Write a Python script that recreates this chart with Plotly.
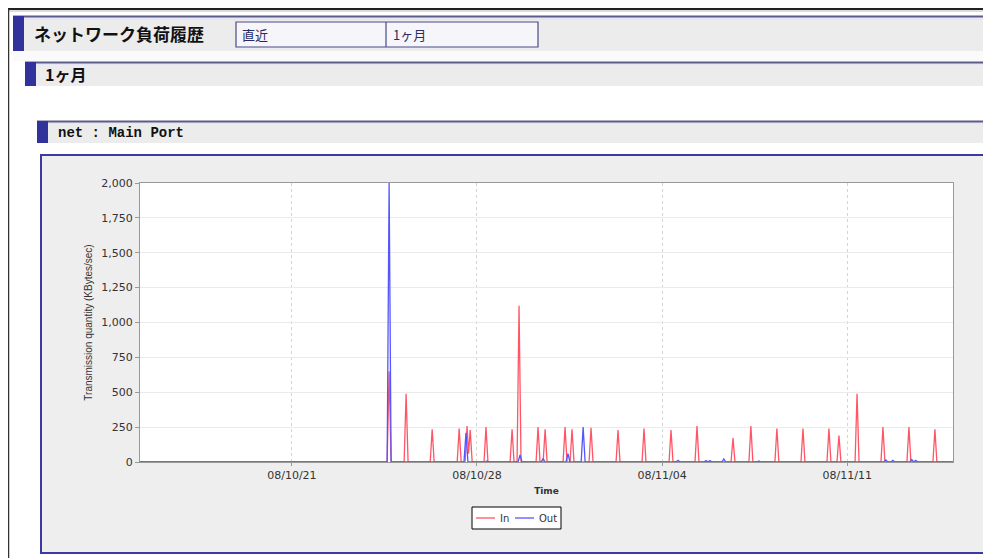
import plotly.graph_objects as go
from datetime import datetime, timedelta

# ---------------- data ----------------
in_times = [
    "2008-10-24 16:15", "2008-10-25 07:40", "2008-10-26 07:20", "2008-10-27 07:50",
    "2008-10-27 15:00", "2008-10-27 16:20", "2008-10-27 17:50", "2008-10-28 08:10",
    "2008-10-29 07:50", "2008-10-29 14:10", "2008-10-30 07:25", "2008-10-30 13:50",
    "2008-10-31 07:55", "2008-10-31 14:15", "2008-11-01 07:30", "2008-11-02 08:00",
    "2008-11-03 07:35", "2008-11-04 08:05", "2008-11-05 07:40", "2008-11-06 16:20",
    "2008-11-07 08:35", "2008-11-08 08:10", "2008-11-09 07:50", "2008-11-10 07:25",
    "2008-11-10 16:30", "2008-11-11 08:55", "2008-11-12 08:25", "2008-11-13 08:00",
    "2008-11-14 07:35",
]
in_values = [
    650, 490, 235, 240,
    257, 60, 230, 250,
    235, 1120, 250, 235,
    250, 235, 245, 230,
    240, 230, 257, 171,
    257, 240, 240, 240,
    190, 490, 250, 250,
    235,
]

out_times = [
    "2008-10-24 16:15", "2008-10-27 14:00", "2008-10-28 09:00", "2008-10-29 15:05",
    "2008-10-30 12:00", "2008-10-31 10:35", "2008-11-01 00:20", "2008-11-04 14:30",
    "2008-11-05 15:50", "2008-11-05 19:25", "2008-11-06 08:00", "2008-11-07 15:50",
    "2008-11-12 11:00", "2008-11-12 17:25", "2008-11-13 10:35", "2008-11-13 14:10",
]
out_values = [
    2000, 210, 8, 50,
    25, 60, 250, 12,
    10, 10, 22, 8,
    15, 12, 18, 12,
]

series_names = ["In", "Out"]
series_colors = ["#FF5566", "#5555FF"]

x_range = ["2008-10-15 06:10", "2008-11-15 00:00"]
x_ticks = ["2008-10-21", "2008-10-28", "2008-11-04", "2008-11-11"]
y_ticks = [0, 250, 500, 750, 1000, 1250, 1500, 1750, 2000]

# ---------------- build series (baseline of zeros around each reading) ----------------
def build(times, vals, start, end, half=timedelta(hours=1.8)):
    peaks = [(datetime.fromisoformat(t), v) for t, v in zip(times, vals)]
    pts = {t: v for t, v in peaks}
    for t, _ in peaks:
        for n in (t - half, t + half):
            lo, hi = min(n, t), max(n, t)
            if any(lo <= p <= hi for p, _ in peaks if p != t):
                continue
            pts.setdefault(n, 0)
    pts.setdefault(datetime.fromisoformat(start), 0)
    pts.setdefault(datetime.fromisoformat(end), 0)
    ks = sorted(pts)
    return ks, [pts[k] for k in ks]

ix, iy = build(in_times, in_values, x_range[0], x_range[1])
ox, oy = build(out_times, out_values, x_range[0], x_range[1])

# ---------------- figure ----------------
# the page body has an 8px margin, so the figure starts at page (8, 8)
OFF = 8
PAGE_W, PAGE_H = 991, 558
W, H = PAGE_W - OFF, PAGE_H - OFF
PL, PR, PT, PB = 140, 953, 183, 462          # plot area in page pixels

def X(px):
    return (px - PL) / (PR - PL)

def Y(py):
    return (PB - py) / (PB - PT)

fig = go.Figure()
fig.add_trace(go.Scatter(x=ix, y=iy, mode="lines", name=series_names[0],
                         line=dict(color=series_colors[0], width=1.3)))
fig.add_trace(go.Scatter(x=ox, y=oy, mode="lines", name=series_names[1],
                         line=dict(color=series_colors[1], width=1.3)))

shapes = []
def rect(x0, y0, x1, y1, fill, line=None, lw=0, layer="below"):
    shapes.append(dict(type="rect", xref="paper", yref="paper", layer=layer,
                       x0=X(x0), x1=X(x1), y0=Y(y0), y1=Y(y1), fillcolor=fill,
                       line=dict(color=line or fill, width=lw)))
def hline(x0, x1, y, color, w, layer="below"):
    shapes.append(dict(type="line", xref="paper", yref="paper", layer=layer,
                       x0=X(x0), x1=X(x1), y0=Y(y), y1=Y(y), line=dict(color=color, width=w)))
def vline(x, y0, y1, color, w):
    shapes.append(dict(type="line", xref="paper", yref="paper", layer="below",
                       x0=X(x), x1=X(x), y0=Y(y0), y1=Y(y1), line=dict(color=color, width=w)))

# page borders
hline(7, 995, 9, "#222222", 2)
hline(7, 995, 11, "#bbbbbb", 1)
vline(8.5, 9, 560, "#333333", 1.5)

# header bar 1
rect(13, 16, 995, 51, "#ececec")
rect(13, 18, 995, 20, "#e6e6f4")
hline(13, 995, 16.5, "#5c5c88", 2)
rect(13, 16, 24, 51, "#32329c")
rect(236, 22, 538, 47, "#f5f5fa", "#4a4a88", 1.2)
vline(386, 22, 47, "#4a4a88", 1.2)
rect(13, 51, 995, 61, "#fafafa")

# header bar 2
rect(25, 62, 995, 86, "#ececec")
rect(25, 63, 995, 65, "#e6e6f4")
hline(25, 995, 62.5, "#5c5c88", 2)
rect(25, 62, 36, 86, "#32329c")

# header bar 3
rect(37, 121, 990, 143, "#ececec")
rect(37, 122, 990, 124, "#e6e6f4")
hline(37, 990, 121.5, "#5c5c88", 2)
rect(37, 121, 48, 143, "#32329c")
vline(990, 118, 150, "#c8c8d8", 1)

# chart frame
rect(41, 155, 1000, 553, "#eeeeee", "#3a3aa0", 2)
rect(PL, PT, PR, PB, "#ffffff")

# legend box (drawn to match the small legend of the reference)
LEG_X0, LEG_X1, LEG_Y0, LEG_Y1 = 472, 561, 507, 529
rect(LEG_X0, LEG_Y0, LEG_X1, LEG_Y1, "#ffffff", "#000000", 1, layer="above")
leg_y = (LEG_Y0 + LEG_Y1) / 2
hline(476, 495, leg_y, series_colors[0], 1.3, layer="above")
hline(515, 534, leg_y, series_colors[1], 1.3, layer="above")

def ann(text, x, y, size, family, color="#111111", anchor="left", angle=0):
    return dict(text=text, x=X(x), y=Y(y), xref="paper", yref="paper",
                xanchor=anchor, yanchor="middle", showarrow=False, textangle=angle,
                font=dict(family=family, size=size, color=color))

annotations = [
    ann("<b>ネットワーク負荷履歴</b>", 32, 33.5, 17, "Noto Sans CJK JP"),
    ann("直近", 240, 34.5, 13, "Noto Sans CJK JP", "#2a2a66"),
    ann("1ヶ月", 391, 34.5, 13, "Noto Sans CJK JP", "#2a2a66"),
    ann("<b>1ヶ月</b>", 43, 74, 16, "Noto Sans CJK JP"),
    ann("<b>net : Main Port</b>", 56, 133, 14, "Liberation Mono"),
    ann(series_names[0], 498, leg_y, 10, "DejaVu Sans", "#333333"),
    ann(series_names[1], 537, leg_y, 10, "DejaVu Sans", "#333333"),
]

fig.update_layout(
    width=W, height=H,
    margin=dict(l=PL - OFF, r=PAGE_W - PR, t=PT - OFF, b=PAGE_H - PB, pad=0),
    paper_bgcolor="#ffffff", plot_bgcolor="#ffffff",
    shapes=shapes, annotations=annotations,
    showlegend=False,
    xaxis=dict(type="date", range=x_range, tickvals=x_ticks, tickformat="%y/%m/%d",
               showgrid=True, gridcolor="#d4d4d4", griddash="dot", gridwidth=1,
               showline=True, linecolor="#999999", linewidth=1, mirror=True,
               ticks="outside", ticklen=3, tickcolor="#999999", zeroline=False,
               tickfont=dict(family="DejaVu Sans", size=11, color="#333333"),
               title=dict(text="<b>Time</b>", standoff=6,
                          font=dict(family="DejaVu Sans", size=9, color="#333333"))),
    yaxis=dict(range=[0, 2000], tickvals=y_ticks, tickformat=",d",
               showgrid=True, gridcolor="#ebebeb", gridwidth=1,
               showline=True, linecolor="#999999", linewidth=1, mirror=True,
               ticks="outside", ticklen=4, tickcolor="#999999", zeroline=False,
               tickfont=dict(family="DejaVu Sans", size=11, color="#333333"),
               title=dict(text="Transmission quantity (KBytes/sec)", standoff=6,
                          font=dict(family="Liberation Sans", size=10, color="#333333"))),
)

fig.write_html("out.html")
